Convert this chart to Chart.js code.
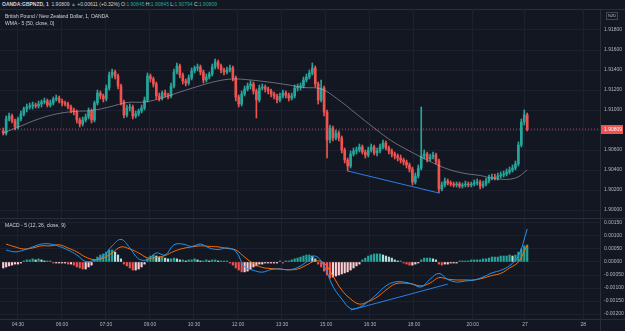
<!DOCTYPE html>
<html>
<head>
<meta charset="utf-8">
<script src="https://cdn.jsdelivr.net/npm/chart.js@4/dist/chart.umd.min.js"></script>
<style>
  body { margin: 0; width: 625px; height: 331px; overflow: hidden; background: #131722; position: relative;
         font-family: "Liberation Sans", Arial, sans-serif; color: #d1d4dc; }
  canvas { position: absolute; left: 0; }
  #priceChart { top: 9px; }
  #macdChart { top: 218px; }
  .txt { position: absolute; font-size: 5px; line-height: 7px; white-space: nowrap; }
  .g { color: #26a69a; }
  .hline { position: absolute; left: 0; width: 625px; height: 1px; background: #2a2e39; }
  .vline { position: absolute; top: 9px; width: 1px; height: 322px; background: #2a2e39; }
  #cur { position: absolute; left: 606px; top: 12px; border: 1px solid #434651; font-size: 4px; line-height: 6px; padding: 0 1px; color: #b2b5be; }
</style>
</head>
<body>
<div class="txt" style="left:2px;top:1px;"><b>OANDA:GBPNZD, 1</b>&nbsp; 1.90809 <span class="g">▲</span> +0.00611 (+0.32%) O:<span class="g">1.90845</span> H:<span class="g">1.90845</span> L:<span class="g">1.90794</span> C:<span class="g">1.90809</span></div>
<div class="hline" style="top:9px"></div>
<canvas id="priceChart" width="625" height="209"></canvas>
<canvas id="macdChart" width="625" height="113"></canvas>
<div class="hline" style="top:218px"></div>
<div class="hline" style="top:319px"></div>
<div class="vline" style="left:600px"></div>
<div class="txt" style="left:5px;top:13px;">British Pound / New Zealand Dollar, 1, OANDA</div>
<div class="txt" style="left:5px;top:20px;">WMA - 5 (50, close, 0)</div>
<div class="txt" style="left:5px;top:222px;">MACD - 5 (12, 26, close, 9)</div>
<div id="cur">NZD</div>

<script>
// ---- GBPNZD candles + WMA, MACD pane ----

const T0 = 240;      // minutes after midnight of the first candle
const STEP = 6.02;   // minutes per candle

const opens = [
  1.9079,1.9077,1.9091,1.9094,1.9089,1.9083,1.9091,1.9096,1.9101,1.9103,
  1.9104,1.9105,1.9104,1.9106,1.9108,1.9109,1.9105,1.9107,1.9111,1.9112,
  1.9109,1.9107,1.9106,1.9103,1.9100,1.9098,1.9090,1.9086,1.9090,1.9093,
  1.9099,1.9090,1.9107,1.9117,1.9114,1.9111,1.9122,1.9135,1.9138,1.9134,
  1.9124,1.9108,1.9095,1.9102,1.9103,1.9094,1.9096,1.9099,1.9102,1.9110,
  1.9134,1.9131,1.9126,1.9114,1.9112,1.9117,1.9115,1.9114,1.9124,1.9138,
  1.9144,1.9135,1.9129,1.9127,1.9132,1.9139,1.9142,1.9143,1.9138,1.9130,
  1.9133,1.9136,1.9143,1.9148,1.9144,1.9140,1.9138,1.9140,1.9142,1.9132,
  1.9113,1.9106,1.9116,1.9121,1.9124,1.9126,1.9119,1.9110,1.9122,1.9123,
  1.9121,1.9119,1.9116,1.9114,1.9110,1.9114,1.9117,1.9115,1.9112,1.9114,
  1.9122,1.9123,1.9124,1.9130,1.9133,1.9137,1.9142,1.9126,1.9110,1.9122,
  1.9098,1.9070,1.9082,1.9072,1.9077,1.9072,1.9060,1.9050,1.9044,1.9056,
  1.9059,1.9060,1.9063,1.9058,1.9055,1.9060,1.9063,1.9057,1.9059,1.9063,
  1.9067,1.9062,1.9059,1.9056,1.9054,1.9052,1.9050,1.9048,1.9045,1.9041,
  1.9028,1.9034,1.9042,1.9054,1.9056,1.9051,1.9053,1.9055,1.9049,1.9021,
  1.9025,1.9029,1.9027,1.9026,1.9025,1.9026,1.9024,1.9025,1.9026,1.9025,
  1.9026,1.9027,1.9028,1.9024,1.9026,1.9029,1.9032,1.9033,1.9032,1.9034,
  1.9035,1.9036,1.9038,1.9040,1.9042,1.9046,1.9065,1.9088,1.9095
];
const highs = [
  1.9082,1.9094,1.9097,1.9096,1.9091,1.9093,1.9099,1.9103,1.9106,1.9107,
  1.9108,1.9107,1.9109,1.9110,1.9112,1.9111,1.9110,1.9113,1.9115,1.9114,
  1.9111,1.9109,1.9108,1.9105,1.9102,1.9100,1.9092,1.9093,1.9096,1.9102,
  1.9101,1.9109,1.9120,1.9119,1.9116,1.9125,1.9138,1.9141,1.9140,1.9136,
  1.9126,1.9110,1.9105,1.9106,1.9105,1.9099,1.9101,1.9105,1.9113,1.9137,
  1.9136,1.9133,1.9128,1.9117,1.9119,1.9120,1.9117,1.9127,1.9141,1.9147,
  1.9146,1.9137,1.9131,1.9135,1.9142,1.9144,1.9146,1.9145,1.9140,1.9136,
  1.9138,1.9146,1.9151,1.9150,1.9146,1.9142,1.9143,1.9145,1.9144,1.9134,
  1.9115,1.9119,1.9124,1.9127,1.9129,1.9128,1.9121,1.9125,1.9126,1.9125,
  1.9123,1.9121,1.9118,1.9116,1.9117,1.9120,1.9119,1.9117,1.9117,1.9125,
  1.9126,1.9127,1.9133,1.9136,1.9140,1.9147,1.9144,1.9128,1.9130,1.9124,
  1.9100,1.9085,1.9084,1.9080,1.9079,1.9074,1.9062,1.9052,1.9059,1.9062,
  1.9063,1.9066,1.9065,1.9060,1.9063,1.9066,1.9065,1.9062,1.9066,1.9070,
  1.9069,1.9064,1.9061,1.9058,1.9056,1.9055,1.9052,1.9050,1.9047,1.9043,
  1.9037,1.9045,1.9103,1.9060,1.9058,1.9056,1.9058,1.9057,1.9051,1.9028,
  1.9032,1.9031,1.9029,1.9028,1.9028,1.9028,1.9027,1.9029,1.9028,1.9028,
  1.9030,1.9031,1.9030,1.9029,1.9032,1.9035,1.9036,1.9036,1.9037,1.9038,
  1.9039,1.9041,1.9043,1.9045,1.9049,1.9068,1.9091,1.9100,1.9097
];
const lows = [
  1.9075,1.9075,1.9089,1.9087,1.9080,1.9081,1.9089,1.9094,1.9098,1.9101,
  1.9101,1.9102,1.9102,1.9103,1.9106,1.9103,1.9103,1.9105,1.9109,1.9107,
  1.9104,1.9104,1.9101,1.9097,1.9095,1.9087,1.9083,1.9084,1.9088,1.9091,
  1.9087,1.9088,1.9105,1.9111,1.9108,1.9109,1.9120,1.9132,1.9131,1.9121,
  1.9105,1.9092,1.9093,1.9099,1.9091,1.9092,1.9094,1.9097,1.9100,1.9108,
  1.9128,1.9123,1.9111,1.9109,1.9110,1.9113,1.9111,1.9112,1.9122,1.9136,
  1.9132,1.9126,1.9124,1.9125,1.9130,1.9137,1.9139,1.9135,1.9127,1.9128,
  1.9131,1.9134,1.9141,1.9141,1.9137,1.9135,1.9136,1.9138,1.9129,1.9109,
  1.9103,1.9104,1.9114,1.9119,1.9121,1.9116,1.9092,1.9108,1.9120,1.9118,
  1.9116,1.9113,1.9111,1.9107,1.9108,1.9112,1.9112,1.9109,1.9110,1.9112,
  1.9119,1.9120,1.9122,1.9128,1.9131,1.9135,1.9123,1.9106,1.9108,1.9094,
  1.9052,1.9067,1.9069,1.9070,1.9069,1.9057,1.9047,1.9039,1.9042,1.9054,
  1.9056,1.9058,1.9056,1.9052,1.9053,1.9058,1.9055,1.9054,1.9057,1.9061,
  1.9060,1.9056,1.9053,1.9051,1.9049,1.9047,1.9045,1.9042,1.9038,1.9025,
  1.9026,1.9032,1.9040,1.9051,1.9048,1.9049,1.9051,1.9046,1.9017,1.9019,
  1.9023,1.9025,1.9024,1.9023,1.9023,1.9022,1.9022,1.9023,1.9023,1.9023,
  1.9024,1.9025,1.9021,1.9022,1.9024,1.9027,1.9030,1.9030,1.9030,1.9032,
  1.9033,1.9034,1.9036,1.9038,1.9040,1.9044,1.9063,1.9085,1.9079
];
const closes = [
  1.9077,1.9091,1.9094,1.9089,1.9083,1.9091,1.9096,1.9101,1.9103,1.9104,
  1.9105,1.9104,1.9106,1.9108,1.9109,1.9105,1.9107,1.9111,1.9112,1.9109,
  1.9107,1.9106,1.9103,1.9100,1.9098,1.9090,1.9086,1.9090,1.9093,1.9099,
  1.9090,1.9107,1.9117,1.9114,1.9111,1.9122,1.9135,1.9138,1.9134,1.9124,
  1.9108,1.9095,1.9102,1.9103,1.9094,1.9096,1.9099,1.9102,1.9110,1.9134,
  1.9131,1.9126,1.9114,1.9112,1.9117,1.9115,1.9114,1.9124,1.9138,1.9144,
  1.9135,1.9129,1.9127,1.9132,1.9139,1.9142,1.9143,1.9138,1.9130,1.9133,
  1.9136,1.9143,1.9148,1.9144,1.9140,1.9138,1.9140,1.9142,1.9132,1.9113,
  1.9106,1.9116,1.9121,1.9124,1.9126,1.9119,1.9110,1.9122,1.9123,1.9121,
  1.9119,1.9116,1.9114,1.9110,1.9114,1.9117,1.9115,1.9112,1.9114,1.9122,
  1.9123,1.9124,1.9130,1.9133,1.9137,1.9142,1.9126,1.9110,1.9122,1.9098,
  1.9070,1.9082,1.9072,1.9077,1.9072,1.9060,1.9050,1.9044,1.9056,1.9059,
  1.9060,1.9063,1.9058,1.9055,1.9060,1.9063,1.9057,1.9059,1.9063,1.9067,
  1.9062,1.9059,1.9056,1.9054,1.9052,1.9050,1.9048,1.9045,1.9041,1.9028,
  1.9034,1.9042,1.9054,1.9056,1.9051,1.9053,1.9055,1.9049,1.9021,1.9025,
  1.9029,1.9027,1.9026,1.9025,1.9026,1.9024,1.9025,1.9026,1.9025,1.9026,
  1.9027,1.9028,1.9024,1.9026,1.9029,1.9032,1.9033,1.9032,1.9034,1.9035,
  1.9036,1.9038,1.9040,1.9042,1.9046,1.9065,1.9088,1.9095,1.90809
];

// WMA(50), at these candle indices
const wmaIdx = [0,6,12,18,24,30,36,42,48,54,60,66,72,78,84,90,96,102,108,114,120,126,132,138,144,150,156,162,168,174,178];
const wmaValues = [
  1.9077,1.9084,1.9091,1.9096,1.90985,1.90995,1.9103,1.91075,1.9108,1.9112,
  1.9118,1.91235,1.91285,1.9131,1.9130,1.9128,1.91255,1.91225,1.9121,1.9110,
  1.9096,1.9082,1.9069,1.9059,1.9050,1.9042,1.9037,1.90345,1.9031,1.9032,1.9040
];

// MACD / signal sampled every third candle
const macdIdx = [1,4,7,10,13,16,19,22,25,28,31,34,37,40,43,46,49,52,55,58,61,64,67,70,73,76,79,82,85,88,
                 91,94,97,100,103,106,109,112,115,118,121,124,127,130,133,136,139,142,145,148,151,154,157,160,163,166,169,172,175,178];
const macdValues = [
  0.00046,0.00039,0.00046,0.00058,0.00069,0.00069,0.00060,0.00046,0.00027,0.00002,
  0.00007,0.00023,0.00062,0.00087,0.00054,0.00012,0.00009,0.00035,0.00027,0.00066,
  0.00069,0.00060,0.00069,0.00054,0.00048,0.00054,0.00041,-0.00019,-0.00032,-0.00039,
  -0.00029,-0.00027,-0.00030,-0.00021,0.00000,0.00023,-0.00016,-0.00094,-0.00142,-0.00179,
  -0.00174,-0.00152,-0.00123,-0.00092,-0.00077,-0.00077,-0.00085,-0.00096,-0.00066,-0.00044,
  -0.00067,-0.00077,-0.00073,-0.00069,-0.00058,-0.00042,-0.00032,-0.00014,0.00023,0.00127
];
const signalValues = [
  0.00069,0.00058,0.00050,0.00054,0.00062,0.00062,0.00066,0.00054,0.00039,0.00019,
  0.00009,0.00016,0.00035,0.00058,0.00050,0.00035,0.00016,0.00018,0.00025,0.00041,
  0.00052,0.00058,0.00062,0.00060,0.00058,0.00052,0.00046,0.00019,-0.00006,-0.00021,
  -0.00025,-0.00027,-0.00030,-0.00027,-0.00012,0.00004,-0.00004,-0.00054,-0.00108,-0.00142,
  -0.00162,-0.00152,-0.00135,-0.00108,-0.00085,-0.00081,-0.00085,-0.00092,-0.00081,-0.00060,
  -0.00066,-0.00069,-0.00069,-0.00069,-0.00062,-0.00052,-0.00044,-0.00023,0.00000,0.00066
];
// histogram, one bar per candle
const histValues = [
  -0.00023,-0.00019,-0.00015,-0.00012,-0.00008,-0.00008,-0.00004,0.00004,0.00008,0.00008,
  0.00012,0.00008,0.00012,0.00008,0.00004,0.00004,0.00004,-0.00004,-0.00004,-0.00004,
  -0.00004,-0.00004,-0.00008,-0.00008,-0.00012,-0.00019,-0.00023,-0.00027,-0.00027,-0.00019,
  -0.00012,0.00008,0.00019,0.00027,0.00031,0.00038,0.00046,0.00046,0.00038,0.00027,
  0.00012,-0.00008,-0.00015,-0.00023,-0.00031,-0.00031,-0.00027,-0.00019,-0.00008,0.00012,
  0.00023,0.00027,0.00023,0.00019,0.00019,0.00015,0.00012,0.00012,0.00015,0.00012,
  0.00008,0.00008,0.00004,0.00008,0.00008,0.00012,0.00008,0.00004,0.00004,0.00008,
  0.00004,0.00008,0.00008,0.00004,0.00004,0.00004,0.00004,-0.00004,-0.00012,-0.00023,
  -0.00031,-0.00038,-0.00038,-0.00035,-0.00027,-0.00019,-0.00015,-0.00008,-0.00008,-0.00004,
  -0.00004,-0.00004,-0.00004,-0.00004,0.00004,-0.00004,0.00004,0.00004,0.00008,0.00012,
  0.00015,0.00019,0.00023,0.00027,0.00027,0.00023,0.00012,-0.00008,-0.00019,-0.00035,
  -0.00050,-0.00062,-0.00058,-0.00054,-0.00050,-0.00046,-0.00042,-0.00038,-0.00031,-0.00023,
  -0.00015,-0.00008,0.00008,0.00015,0.00023,0.00027,0.00031,0.00031,0.00031,0.00027,
  0.00023,0.00019,0.00015,0.00008,0.00004,0.00004,-0.00004,-0.00008,-0.00012,-0.00012,
  -0.00008,-0.00004,0.00008,0.00015,0.00015,0.00015,0.00012,0.00008,-0.00008,-0.00012,
  -0.00008,-0.00008,-0.00004,-0.00004,-0.00004,0.00004,0.00004,0.00004,0.00004,0.00008,
  0.00008,0.00008,0.00008,0.00012,0.00012,0.00015,0.00019,0.00019,0.00019,0.00023,
  0.00023,0.00023,0.00027,0.00023,0.00027,0.00038,0.00050,0.00062,0.00065
];

// drawn trend lines (candle index, value)
const priceTrendIdx = [117, 148];
const priceTrendValues = [1.9039, 1.9017];
const macdTrendIdx = [118, 151];
const macdTrendValues = [-0.00185, -0.00085];

const priceTicks = [1.900, 1.902, 1.904, 1.906, 1.908, 1.910, 1.912, 1.914, 1.916, 1.918];
const macdTicks = [-0.0020, -0.0015, -0.0010, -0.0005, 0, 0.0005, 0.0010, 0.0015];
const timeTicks = [270, 360, 450, 540, 630, 720, 810, 900, 990, 1080, 1200, 1307, 1426];
const timeLabels = ['04:30', '06:00', '07:30', '09:00', '10:30', '12:00', '13:30', '15:00', '16:30', '18:00', '20:00', '27', '28'];

const X_MIN = 233.4, X_MAX = 1460.4;
const UP = '#26a69a', DOWN = '#ef5350';
const GRID = '#1c2030';
const TICK = '#b2b5be';
const FONT = { family: '"Liberation Sans", Arial, sans-serif', size: 5 };

const at = i => T0 + i * STEP;
const lastPrice = closes[closes.length - 1];
const candleColors = closes.map((c, i) => c >= opens[i] ? UP : DOWN);
const histColors = histValues.map((v, i) => {
  const prev = i ? histValues[i - 1] : v;
  if (v >= 0) return v >= prev ? '#26a69a' : '#b2dfdb';
  return v < prev ? '#ef5350' : '#ffcdd2';
});

function noPad(s) { s.paddingTop = 0; s.paddingBottom = 0; s.paddingLeft = 0; s.paddingRight = 0; }

function timeAxis(showLabels) {
  return {
    type: 'linear', min: X_MIN, max: X_MAX, offset: false,
    afterBuildTicks: s => { s.ticks = timeTicks.map(v => ({ value: v })); },
    grid: { color: GRID, drawTicks: false, offset: false },
    border: { display: false },
    ticks: {
      display: showLabels, color: TICK, font: FONT, padding: 3,
      autoSkip: false, maxRotation: 0, callback: (v, i) => timeLabels[i],
    },
    afterFit: s => { s.height = showLabels ? 12 : 0; noPad(s); },
  };
}

function valueAxis(min, max, ticks) {
  return {
    type: 'linear', position: 'right', min, max,
    afterBuildTicks: s => { s.ticks = ticks.map(v => ({ value: v })); },
    grid: { color: GRID, drawTicks: false },
    border: { display: false },
    ticks: { color: TICK, font: FONT, padding: 4, autoSkip: false, callback: v => v.toFixed(5) },
    afterFit: s => { s.width = 25; noPad(s); },
  };
}

const priceTag = {
  id: 'priceTag',
  afterDraw(chart) {
    const { ctx, chartArea } = chart;
    const py = Math.round(chart.scales.y.getPixelForValue(lastPrice));
    ctx.save();
    ctx.fillStyle = '#ef5350';
    ctx.fillRect(chartArea.right + 1, py - 4, 22, 9);
    ctx.fillStyle = '#ffffff';
    ctx.font = '5px "Liberation Sans", Arial, sans-serif';
    ctx.textBaseline = 'middle';
    ctx.fillText(lastPrice.toFixed(5), chartArea.right + 4, py + 0.5);
    ctx.restore();
  }
};

const common = {
  responsive: false, animation: false, devicePixelRatio: 1,
  layout: { padding: 0 },
  plugins: { legend: { display: false }, tooltip: { enabled: false } },
};

new Chart(document.getElementById('priceChart'), {
  type: 'bar',
  data: {
    datasets: [
      {
        type: 'line', data: [{ x: X_MIN, y: lastPrice }, { x: X_MAX, y: lastPrice }],
        borderColor: 'rgba(239,83,80,0.8)', borderWidth: 1, borderDash: [1, 2], pointRadius: 0, order: 5,
      },
      {
        data: lows.map((l, i) => ({ x: at(i), y: [l, highs[i]] })),
        backgroundColor: candleColors, barThickness: 1, grouped: false, order: 4,
      },
      {
        data: opens.map((o, i) => ({ x: at(i), y: [o, closes[i]] })),
        backgroundColor: candleColors, barThickness: 2, minBarLength: 1, grouped: false, order: 3,
      },
      {
        type: 'line', data: wmaIdx.map((k, j) => ({ x: at(k), y: wmaValues[j] })),
        borderColor: 'rgba(178,181,190,0.55)', borderWidth: 1, pointRadius: 0, tension: 0.4, order: 2,
      },
      {
        type: 'line', data: priceTrendIdx.map((k, j) => ({ x: at(k), y: priceTrendValues[j] })),
        borderColor: '#2b7de9', borderWidth: 1, pointRadius: 0, order: 1,
      },
    ]
  },
  options: {
    ...common,
    scales: { x: timeAxis(false), y: valueAxis(1.8992, 1.9201, priceTicks) },
  },
  plugins: [priceTag],
});

// MACD pane: zero line 44px below the pane top, 26px per 0.001
new Chart(document.getElementById('macdChart'), {
  type: 'bar',
  data: {
    datasets: [
      {
        data: histValues.map((v, i) => ({ x: at(i), y: v })),
        backgroundColor: histColors, barThickness: 1.5, grouped: false, order: 4,
      },
      {
        type: 'line', data: macdTrendIdx.map((k, j) => ({ x: at(k), y: macdTrendValues[j] })),
        borderColor: '#2b7de9', borderWidth: 1, pointRadius: 0, order: 3,
      },
      {
        type: 'line', data: macdIdx.map((k, j) => ({ x: at(k), y: signalValues[j] })),
        borderColor: '#ff6d00', borderWidth: 1, pointRadius: 0, tension: 0.4, order: 2,
      },
      {
        type: 'line', data: macdIdx.map((k, j) => ({ x: at(k), y: macdValues[j] })),
        borderColor: '#2196f3', borderWidth: 1, pointRadius: 0, tension: 0.4, order: 1,
      },
    ]
  },
  options: {
    ...common,
    scales: { x: timeAxis(true), y: valueAxis(-0.0021923, 0.0016923, macdTicks) },
  },
});
</script>
</body>
</html>
